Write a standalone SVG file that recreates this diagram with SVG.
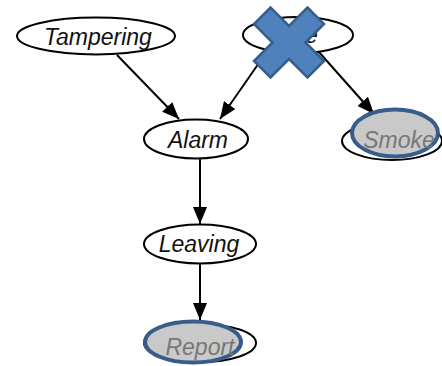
<svg xmlns="http://www.w3.org/2000/svg" width="442" height="366" viewBox="0 0 442 366">
  <style>
    .node { fill: #ffffff; stroke: #000000; stroke-width: 2; }
    .label { font-family: "Liberation Sans", Arial, sans-serif; font-style: italic; font-size: 23px; fill: #111111; text-anchor: middle; }
    .observed { fill: #c9c9c9; stroke: #385D8A; stroke-width: 4; }
    .obs-label { fill: #777777; }
    .edge { stroke: #000000; stroke-width: 2; fill: none; marker-end: url(#arrow); }
    .cross { fill: #4F81BD; stroke: #385D8A; stroke-width: 2.5; stroke-linejoin: miter; }
  </style>
  <defs>
    <marker id="arrow" markerUnits="userSpaceOnUse" markerWidth="18" markerHeight="14" refX="17" refY="7" orient="auto">
      <path d="M0,0 L17,7 L0,14 Z" fill="#000000"/>
    </marker>
  </defs>
  <rect width="442" height="366" fill="#ffffff"/>

  <!-- connectors -->
  <g id="connectors">
    <line class="edge" x1="117" y1="55" x2="179" y2="119"/>
    <line class="edge" x1="268" y1="50" x2="220" y2="119"/>
    <line class="edge" x1="318" y1="51" x2="374" y2="114"/>
    <line class="edge" x1="200" y1="158" x2="200" y2="224"/>
    <line class="edge" x1="200" y1="263" x2="200" y2="320"/>
  </g>

  <!-- nodes -->
  <g id="tampering">
    <ellipse class="node" cx="96" cy="36" rx="79" ry="18.5"/>
    <text class="label" x="98" y="45">Tampering</text>
  </g>
  <g id="fire">
    <ellipse class="node" cx="298" cy="35" rx="55" ry="18"/>
    <text class="label" x="298" y="43">Fire</text>
  </g>
  <g id="alarm">
    <ellipse class="node" cx="196" cy="139" rx="52" ry="19.5"/>
    <text class="label" x="198" y="148">Alarm</text>
  </g>
  <g id="smoke">
    <ellipse class="node" cx="392" cy="141" rx="50" ry="19"/>
    <ellipse class="observed" cx="395" cy="133" rx="43" ry="23.5"/>
    <text class="label obs-label" x="399" y="148">Smoke</text>
  </g>
  <g id="leaving">
    <ellipse class="node" cx="200" cy="244" rx="56" ry="19.5"/>
    <text class="label" x="199" y="252">Leaving</text>
  </g>
  <g id="report">
    <ellipse class="node" cx="200" cy="343" rx="56" ry="19"/>
    <ellipse class="observed" cx="193" cy="342" rx="48" ry="20.5"/>
    <text class="label obs-label" x="200" y="355">Report</text>
  </g>

  <!-- cross marking the Fire node as removed -->
  <g id="cross-mark" transform="translate(289,42.5)">
    <polygon class="cross" points="0,-16.5 18.5,-35 35,-18.5 16.5,0 35,18.5 18.5,35 0,16.5 -18.5,35 -35,18.5 -16.5,0 -35,-18.5 -18.5,-35"/>
  </g>
</svg>
